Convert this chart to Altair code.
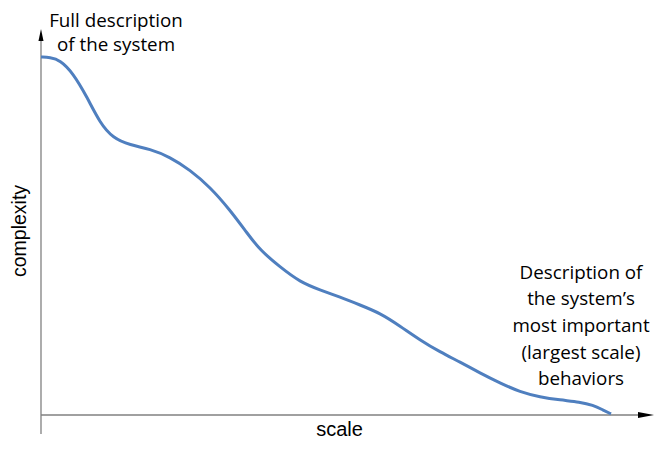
import altair as alt
import pandas as pd

# curve: scale (0-100) vs complexity (0-100)
curve_x = [0, 1.58, 3.33, 5.61, 8.07, 10.35, 12.63, 15.61, 19.12, 22.63, 26.14, 29.65,
           33.16, 36.14, 38.42, 41.93, 45.44, 48.95, 52.46, 55.96, 59.47, 62.98, 66.49,
           70.0, 73.51, 77.02, 80.53, 84.04, 87.54, 91.05, 94.56, 96.84, 98.6, 100]
curve_y = [100, 99.86, 99.16, 95.53, 88.83, 81.56, 77.37, 75.42, 74.30, 72.07, 68.44, 63.69,
           57.26, 50.84, 46.09, 41.34, 37.15, 34.92, 32.96, 30.73, 28.49, 24.86, 20.95,
           17.60, 14.80, 11.73, 8.94, 6.42, 5.03, 4.19, 3.63, 2.79, 1.40, 0.3]

top_lines = ["Full description", "of the system"]
top_x = [13.16, 13.16]
top_y = [108.3, 101.6]

right_lines = ["Description of", "the system\u2019s", "most important", "(largest scale)", "behaviors"]
right_x = [94.74] * 5
right_y = [37.99, 30.59, 23.18, 15.78, 8.38]

axis_titles = ["complexity", "scale"]
axis_title_x = [-3.6, 52.37]
axis_title_y = [51.4, -5.9]

X_DOM = [-5.789, 107.72]
Y_DOM = [-7.263, 113.69]

xs = alt.Scale(domain=X_DOM, nice=False, zero=False)
ys = alt.Scale(domain=Y_DOM, nice=False, zero=False)


def enc(ch):
    return ch.encode(
        x=alt.X("x:Q", scale=xs, axis=None),
        y=alt.Y("y:Q", scale=ys, axis=None),
    )


curve_df = pd.DataFrame({"x": curve_x, "y": curve_y})
curve = enc(alt.Chart(curve_df).mark_line(color="#4f7fbf", strokeWidth=3, interpolate="basis"))

# axis lines
vaxis = alt.Chart(pd.DataFrame({"x": [0], "y": [-5.31], "y2": [106.1]})).mark_rule(
    color="#808080", strokeWidth=1.3
).encode(x=alt.X("x:Q", scale=xs, axis=None), y=alt.Y("y:Q", scale=ys, axis=None), y2="y2:Q")
haxis = alt.Chart(pd.DataFrame({"x": [0], "x2": [106.1], "y": [0]})).mark_rule(
    color="#808080", strokeWidth=1.3
).encode(x=alt.X("x:Q", scale=xs, axis=None), x2="x2:Q", y=alt.Y("y:Q", scale=ys, axis=None))

# arrowheads
varrow = enc(alt.Chart(pd.DataFrame({"x": [0], "y": [106.15]})).mark_point(
    filled=True, color="black", opacity=1, strokeWidth=0,
    shape="M-0.42,1L0,-1L0.42,1Z", size=144))
harrow = enc(alt.Chart(pd.DataFrame({"x": [106.14], "y": [0]})).mark_point(
    filled=True, color="black", opacity=1, strokeWidth=0,
    shape="M-1,-0.375L1,0L-1,0.375Z", size=256))

top_df = pd.DataFrame({"x": top_x, "y": top_y, "t": top_lines})
top_text = enc(alt.Chart(top_df).mark_text(
    font="Open Sans", fontSize=18.8, align="center", baseline="alphabetic", color="black"
)).encode(text="t:N")

right_df = pd.DataFrame({"x": right_x, "y": right_y, "t": right_lines})
right_text = enc(alt.Chart(right_df).mark_text(
    font="Open Sans", fontSize=18.8, align="center", baseline="alphabetic", color="black"
)).encode(text="t:N")

ylab = enc(alt.Chart(pd.DataFrame({"x": [axis_title_x[0]], "y": [axis_title_y[0]], "t": [axis_titles[0]]})).mark_text(
    font="Liberation Sans", fontSize=19.5, align="center", baseline="middle", angle=270, color="black"
)).encode(text="t:N")
xlab = enc(alt.Chart(pd.DataFrame({"x": [axis_title_x[1]], "y": [axis_title_y[1]], "t": [axis_titles[1]]})).mark_text(
    font="Liberation Sans", fontSize=20, align="center", baseline="alphabetic", color="black"
)).encode(text="t:N")

chart = alt.layer(vaxis, haxis, varrow, harrow, curve, top_text, right_text, ylab, xlab).properties(
    width=647, height=433, padding=0, background="white",
    autosize=alt.AutoSizeParams(type="none"),
).configure_view(stroke=None)

chart.save("out.html", embed_options={"renderer": "svg", "actions": False})
